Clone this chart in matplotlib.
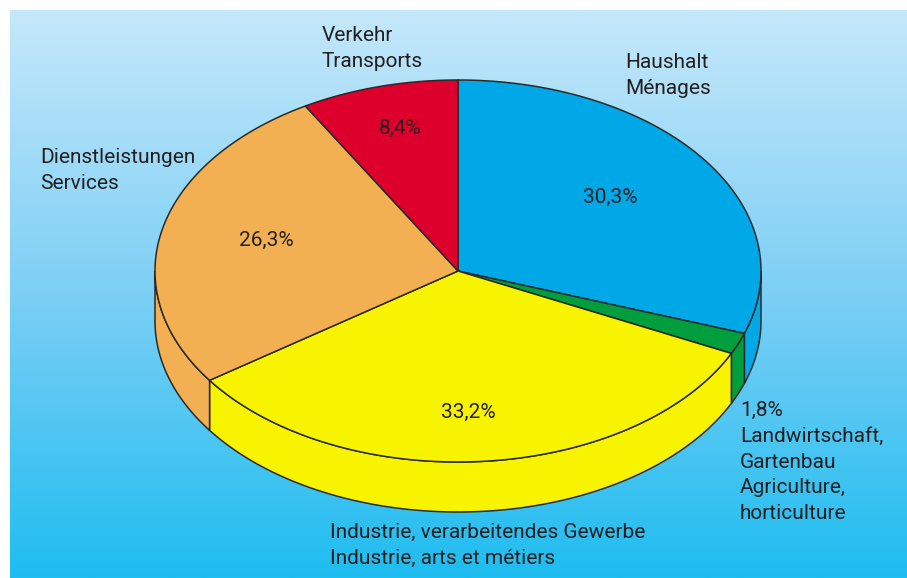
import numpy as np
import matplotlib.pyplot as plt
from matplotlib.patches import Polygon
from matplotlib.colors import LinearSegmentedColormap

plt.rcParams['font.family'] = ['Roboto', 'DejaVu Sans']

# shares in %, clockwise from 12 o'clock
labels = ['Haushalt\nMénages',
          'Landwirtschaft,\nGartenbau\nAgriculture,\nhorticulture',
          'Industrie, verarbeitendes Gewerbe\nIndustrie, arts et métiers',
          'Dienstleistungen\nServices',
          'Verkehr\nTransports']
values = [30.3, 1.8, 33.2, 26.3, 8.4]
pct_labels = ['30,3%', '1,8%', '33,2%', '26,3%', '8,4%']
colors = ['#00a8e8', '#009e3c', '#f8f400', '#f3b052', '#de002c']

W, H = 907, 578
fig = plt.figure(figsize=(W / 100, H / 100), dpi=100)
ax = fig.add_axes([0, 0, 1, 1])
ax.set_xlim(0, W)
ax.set_ylim(H, 0)
ax.axis('off')

# background gradient box
bg = LinearSegmentedColormap.from_list('bg', ['#c5e8fa', '#7ccff5', '#1ebdf0'])
grad = np.linspace(0, 1, 256).reshape(-1, 1)
ax.imshow(grad, cmap=bg, extent=(10, W, H, 10), aspect='auto', zorder=0)

# pie geometry (pixels)
cx, cy, rx, ry, depth = 458, 271, 303, 191, 50
edge = '#2a2a2a'


def pt(t, dy=0):
    t = np.radians(t)
    return np.column_stack([cx + rx * np.cos(t), cy - ry * np.sin(t) + dy])


frac = np.array(values) / sum(values)
cum = np.concatenate([[0], np.cumsum(frac)])
starts = 90 - 360 * cum[:-1]
ends = 90 - 360 * cum[1:]

# side faces (front half only)
for a0, a1, c in zip(starts, ends, colors):
    lo, hi = max(a1, -180), min(a0, 0)
    if hi <= lo:
        continue
    t = np.linspace(lo, hi, 100)
    poly = np.vstack([pt(t), pt(t[::-1], depth)])
    ax.add_patch(Polygon(poly, closed=True, facecolor=c, edgecolor=edge,
                         linewidth=1.1, zorder=2))

# top faces
for a0, a1, c in zip(starts, ends, colors):
    t = np.linspace(a0, a1, 200)
    poly = np.vstack([[cx, cy], pt(t)])
    ax.add_patch(Polygon(poly, closed=True, facecolor=c, edgecolor=edge,
                         linewidth=1.1, zorder=3))

txt = dict(color='#231f20', fontsize=15, zorder=5, linespacing=1.45)

# percentage labels on the slices
pct_pos = [(610, 197), None, (468, 412), (266, 240), (400, 128)]
for p, s in zip(pct_pos, pct_labels):
    if p is not None:
        ax.text(p[0], p[1], s, ha='center', va='center', **txt)

# category labels
ax.text(322, 26, labels[4], ha='left', va='top', **txt)
ax.text(625, 53, labels[0], ha='left', va='top', **txt)
ax.text(40, 148, labels[3], ha='left', va='top', **txt)
ax.text(740, 401, pct_labels[1] + '\n' + labels[1], ha='left', va='top', **txt)
ax.text(330, 523, labels[2], ha='left', va='top', **txt)

fig.savefig('out.png', dpi=100)
